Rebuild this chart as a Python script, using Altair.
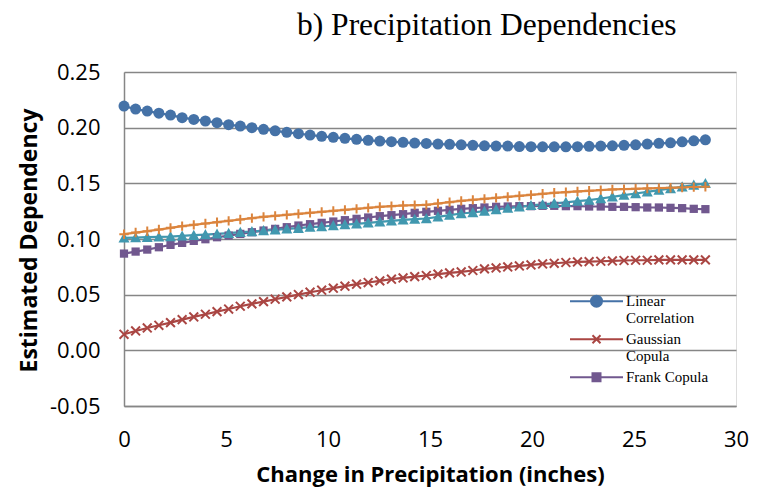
import altair as alt
import pandas as pd

x_vals = [0.0, 0.57, 1.14, 1.71, 2.28, 2.85, 3.42, 3.99, 4.56, 5.13, 5.7, 6.27, 6.84, 7.41, 7.98, 8.55,
          9.12, 9.69, 10.26, 10.83, 11.4, 11.97, 12.54, 13.11, 13.68, 14.25, 14.82, 15.39, 15.96, 16.53,
          17.1, 17.67, 18.24, 18.81, 19.38, 19.95, 20.52, 21.09, 21.66, 22.23, 22.8, 23.37, 23.94, 24.51,
          25.08, 25.65, 26.22, 26.79, 27.36, 27.93, 28.5]

linear_corr = [0.2194, 0.2167, 0.2149, 0.2130, 0.2113, 0.2090, 0.2074, 0.2060, 0.2045, 0.2027, 0.2014,
               0.2000, 0.1985, 0.1972, 0.1958, 0.1946, 0.1934, 0.1922, 0.1913, 0.1904, 0.1895, 0.1886,
               0.1880, 0.1874, 0.1868, 0.1862, 0.1858, 0.1853, 0.1850, 0.1846, 0.1841, 0.1837, 0.1835,
               0.1835, 0.1830, 0.1829, 0.1828, 0.1828, 0.1828, 0.1829, 0.1832, 0.1835, 0.1837, 0.1841,
               0.1846, 0.1853, 0.1859, 0.1864, 0.1873, 0.1882, 0.1891]

gaussian = [0.0144, 0.0174, 0.0201, 0.0225, 0.0249, 0.0276, 0.0300, 0.0324, 0.0348, 0.0371, 0.0396,
            0.0417, 0.0438, 0.0459, 0.0480, 0.0501, 0.0522, 0.0540, 0.0558, 0.0576, 0.0594, 0.0609,
            0.0624, 0.0639, 0.0650, 0.0662, 0.0672, 0.0684, 0.0696, 0.0704, 0.0717, 0.0732, 0.0740,
            0.0749, 0.0758, 0.0767, 0.0776, 0.0782, 0.0789, 0.0794, 0.0797, 0.0800, 0.0803, 0.0807,
            0.0809, 0.0809, 0.0812, 0.0812, 0.0812, 0.0812, 0.0812]

frank = [0.0869, 0.0887, 0.0905, 0.0926, 0.0947, 0.0965, 0.0983, 0.0998, 0.1016, 0.1031, 0.1046,
         0.1061, 0.1076, 0.1091, 0.1106, 0.1121, 0.1133, 0.1145, 0.1157, 0.1169, 0.1181, 0.1193,
         0.1205, 0.1214, 0.1223, 0.1235, 0.1244, 0.1253, 0.1262, 0.1271, 0.1277, 0.1283, 0.1289,
         0.1292, 0.1295, 0.1295, 0.1298, 0.1298, 0.1295, 0.1295, 0.1292, 0.1292, 0.1289, 0.1289,
         0.1286, 0.1283, 0.1283, 0.1280, 0.1277, 0.1271, 0.1268]

clayton = [0.1010, 0.1013, 0.1016, 0.1019, 0.1022, 0.1028, 0.1034, 0.1040, 0.1046, 0.1052, 0.1061,
           0.1067, 0.1076, 0.1082, 0.1091, 0.1097, 0.1106, 0.1112, 0.1121, 0.1130, 0.1136, 0.1145,
           0.1154, 0.1163, 0.1172, 0.1178, 0.1184, 0.1199, 0.1214, 0.1229, 0.1238, 0.1250, 0.1265,
           0.1277, 0.1289, 0.1302, 0.1311, 0.1320, 0.1329, 0.1340, 0.1349, 0.1364, 0.1379, 0.1394,
           0.1409, 0.1424, 0.1439, 0.1454, 0.1469, 0.1484, 0.1499]

gumbel = [0.1043, 0.1058, 0.1070, 0.1085, 0.1100, 0.1115, 0.1127, 0.1139, 0.1151, 0.1163, 0.1175,
          0.1187, 0.1199, 0.1208, 0.1217, 0.1226, 0.1235, 0.1244, 0.1253, 0.1262, 0.1271, 0.1280,
          0.1289, 0.1295, 0.1301, 0.1304, 0.1307, 0.1319, 0.1331, 0.1343, 0.1352, 0.1361, 0.1370,
          0.1379, 0.1388, 0.1397, 0.1406, 0.1415, 0.1421, 0.1427, 0.1433, 0.1439, 0.1445, 0.1448,
          0.1451, 0.1454, 0.1457, 0.1460, 0.1463, 0.1466, 0.1469]

series_names = ["Linear Correlation", "Gaussian Copula", "Frank Copula", "Clayton Copula", "Gumbel Copula"]
series_colors = ["#4572A7", "#AA4643", "#71588F", "#4198AF", "#DB843D"]
series_values = [linear_corr, gaussian, frank, clayton, gumbel]
marker_shapes = ["circle",
                 "M-0.8,-0.8L0.8,0.8M-0.8,0.8L0.8,-0.8",
                 "M-0.75,-0.75H0.75V0.75H-0.75Z",
                 "M0,-1L1,0.85L-1,0.85Z",
                 "M-0.85,0H0.85M0,-0.85V0.85"]
marker_filled = [True, False, True, True, False]

legend_names = ["Linear Correlation", "Gaussian Copula", "Frank Copula"]
legend_colors = ["#4572A7", "#AA4643", "#71588F"]
legend_shapes = ["M-5.3,-0.86H5.3M1.1,-0.86A1.1,1.1,0,1,1,-1.1,-0.86A1.1,1.1,0,1,1,1.1,-0.86Z",
                 "M-5.3,-0.86H5.3M-0.8,-1.66L0.8,-0.06M-0.8,-0.06L0.8,-1.66",
                 "M-5.3,-0.86H5.3M-0.8,-1.66H0.8V-0.06H-0.8Z"]

rows = []
for k, (name, vals) in enumerate(zip(series_names, series_values)):
    for xv, yv in zip(x_vals, vals):
        rows.append({"x": xv, "y": yv, "series": name})
df = pd.DataFrame(rows)

xscale = alt.Scale(domain=[0, 30], nice=False, zero=False)
yscale = alt.Scale(domain=[-0.05, 0.25], nice=False, zero=False)

label_font = "Open Sans"

xaxis = alt.Axis(values=[0, 5, 10, 15, 20, 25, 30], grid=False, ticks=False, domain=True,
                 domainColor="#868686", domainWidth=1.5, labelFont=label_font, labelFontSize=22,
                 labelColor="black", labelPadding=23, labelFlush=False,
                 title="Change in Precipitation (inches)",
                 titleFont=label_font, titleFontSize=22, titleFontWeight="bold", titleColor="black",
                 titleY=68, titleBaseline="middle")
yaxis = alt.Axis(values=[-0.05, 0.0, 0.05, 0.10, 0.15, 0.20, 0.25], grid=True,
                 labelExpr="datum.value < 0 ? '-' + format(-datum.value, '.2f') : format(datum.value, '.2f')",
                 gridColor="#868686", gridWidth=1.5, ticks=False, domain=True, domainColor="#868686",
                 domainWidth=1.5, labelFont=label_font, labelFontSize=22, labelColor="black",
                 labelPadding=24, labelFlush=False, title="Estimated Dependency", titleFont=label_font,
                 titleFontSize=23, titleFontWeight="bold", titleColor="black", titleX=-95, titleY=168,
                 titleBaseline="middle", titleAngle=-90)

color_scale = alt.Scale(domain=series_names, range=series_colors)

lines = alt.Chart(df).mark_line(strokeWidth=2.2).encode(
    x=alt.X("x:Q", scale=xscale, axis=xaxis),
    y=alt.Y("y:Q", scale=yscale, axis=yaxis),
    color=alt.Color("series:N", scale=color_scale, legend=None),
    detail="series:N",
)

point_layers = []
for name, shp, fl in zip(series_names, marker_shapes, marker_filled):
    point_layers.append(
        alt.Chart(df).transform_filter(alt.datum.series == name).mark_point(
            shape=shp, filled=fl, size=121, strokeWidth=2, opacity=1
        ).encode(
            x=alt.X("x:Q", scale=xscale),
            y=alt.Y("y:Q", scale=yscale),
            color=alt.Color("series:N", scale=color_scale, legend=None),
        )
    )

leg = alt.Legend(title=None, orient="none", legendX=465, legendY=226, padding=0,
                 labelFont="Liberation Serif", labelFontSize=15, labelColor="black",
                 labelOffset=22, labelLimit=300, labelBaseline="alphabetic",
                 symbolStrokeWidth=2, symbolSize=100, symbolOpacity=1, rowPadding=5,
                 labelExpr="split(datum.label == 'Linear Correlation' ? 'Linear|Correlation' : datum.label == 'Gaussian Copula' ? 'Gaussian|Copula' : datum.label, '|')")

legend_df = pd.DataFrame({"series": legend_names})
legend_layer = alt.Chart(legend_df).mark_point(size=100, strokeWidth=2, opacity=1).transform_filter("false").encode(
    x=alt.X("x:Q", scale=xscale),
    y=alt.Y("y:Q", scale=yscale),
    fill=alt.Fill("series:N", scale=alt.Scale(domain=legend_names, range=legend_colors), legend=leg),
    stroke=alt.Stroke("series:N", scale=alt.Scale(domain=legend_names, range=legend_colors), legend=leg),
    shape=alt.Shape("series:N", scale=alt.Scale(domain=legend_names, range=legend_shapes), legend=leg),
)

chart = alt.layer(lines, *point_layers, legend_layer).properties(
    width=612, height=334,
    autosize=alt.AutoSizeParams(type="none"),
    padding={"left": 116, "top": 64, "right": 17, "bottom": 81},
    title=alt.TitleParams("b) Precipitation Dependencies", font="Liberation Serif", fontSize=31.5,
                          fontWeight="normal", color="black", anchor="start", frame="group", dx=173,
                          baseline="alphabetic", offset=30, dy=35),
).configure_view(stroke=None).configure(background="white")

chart.save("out.html", embed_options={"renderer": "svg", "actions": False})
